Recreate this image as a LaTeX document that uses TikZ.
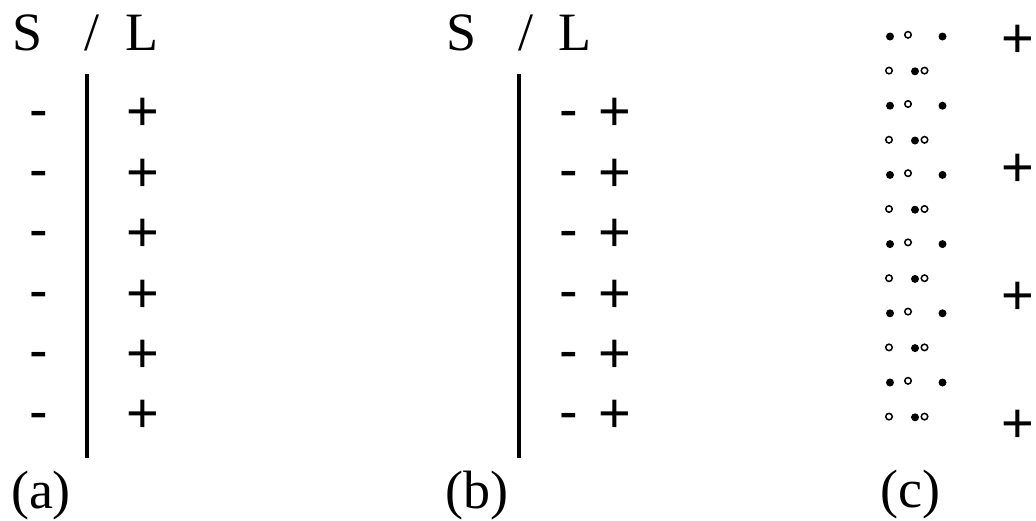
\documentclass[tikz,border=0pt]{standalone}
\usepackage{fontspec}
\setmainfont{Liberation Serif}
\newfontfamily\sgnfont{Liberation Sans}
\begin{document}
\begin{tikzpicture}[x=1pt,y=-1pt,
  hdr/.style={font=\fontsize{54}{60}\selectfont, inner sep=0pt, anchor=base},
  sgn/.style={font=\sgnfont\fontsize{56}{60}\selectfont, inner sep=0pt, anchor=base},
  bar/.style={line width=4.5pt},
  fdot/.style={circle, fill=black, inner sep=0pt, minimum size=8pt},
  odot/.style={circle, draw=black, line width=1.5pt, fill=white, inner sep=0pt, minimum size=6.5pt}]
\useasboundingbox (0,0) rectangle (1036,520);
% (a)
\node[hdr] (aS) at (28,50) {S};
\node[hdr] (aSl) at (92,50) {/};
\node[hdr] (aL) at (142,50) {L};
\coordinate (abarT) at (87,74);
\coordinate (abarB) at (87,458);
\draw[bar] (abarT) -- (abarB);
\foreach \i in {0,...,5} {
  \node[sgn] (am\i) at (39,{128+60.4*\i}) {-};
  \node[sgn] (ap\i) at (143,{130.8+60.4*\i}) {+};
}
\node[hdr] (alab) at (41,508) {(a)};
% (b)
\node[hdr] (bS) at (462,50) {S};
\node[hdr] (bSl) at (526,50) {/};
\node[hdr] (bL) at (575,50) {L};
\coordinate (bbarT) at (519,74);
\coordinate (bbarB) at (519,458);
\draw[bar] (bbarT) -- (bbarB);
\foreach \i in {0,...,5} {
  \node[sgn] (bm\i) at (569,{128+60.4*\i}) {-};
  \node[sgn] (bp\i) at (615,{130.8+60.4*\i}) {+};
}
\node[hdr] (blab) at (477,508) {(b)};
% (c)
\foreach \k in {0,2,...,10} {
  \pgfmathsetmacro\yy{36.5+34.6*\k}
  \node[fdot] (cf\k a) at (890,\yy) {};
  \node[odot] (co\k a) at (908,\yy-1.7) {};
  \node[fdot] (cf\k b) at (942.5,\yy) {};
}
\foreach \k in {1,3,...,11} {
  \pgfmathsetmacro\yy{36+34.6*\k}
  \node[odot] (co\k a) at (889,\yy) {};
  \node[fdot] (cf\k a) at (915,\yy+0.7) {};
  \node[odot] (co\k b) at (924.5,\yy) {};
}
\foreach \j/\y in {0/38,1/167,2/294.5,3/422.5} {
  \node[sgn] (cp\j) at (1017.5,\y+19.8) {+};
}
\node[hdr] (clab) at (910,507) {(c)};
\end{tikzpicture}
\end{document}
